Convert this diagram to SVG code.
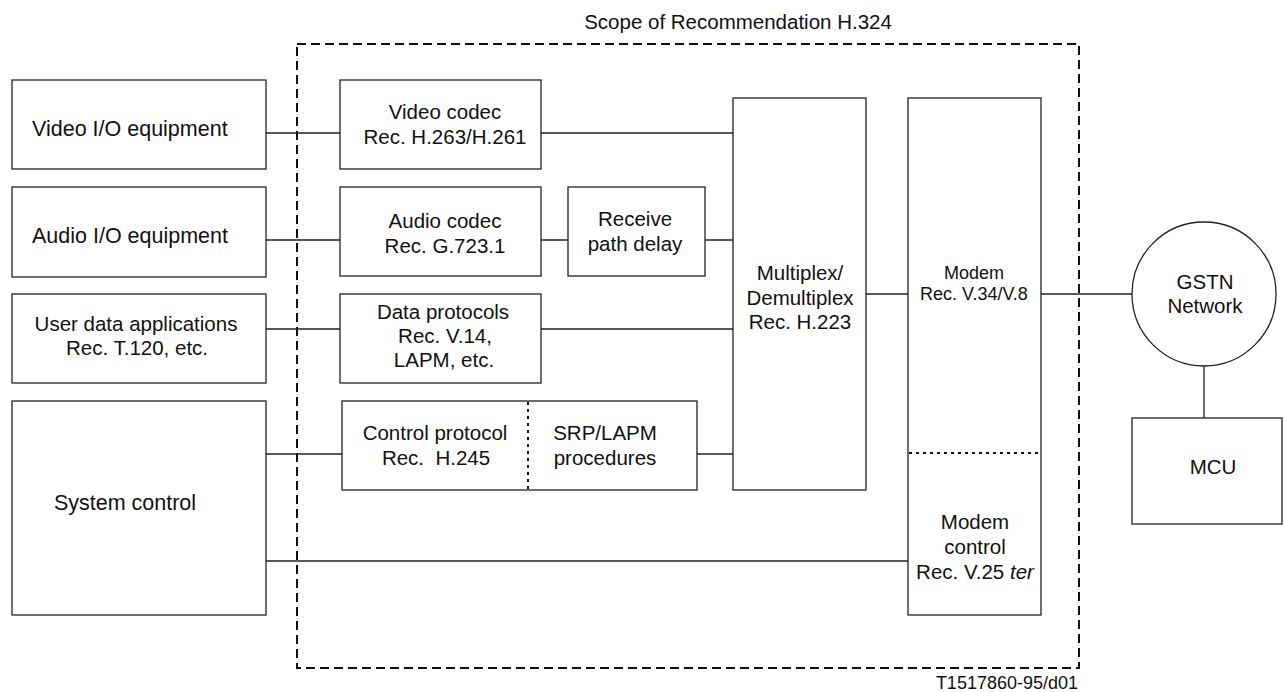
<svg xmlns="http://www.w3.org/2000/svg" width="1284" height="692" viewBox="0 0 1284 692">
<style>
.box{fill:#fff;stroke:#222;stroke-width:1.3}
.ln{fill:none;stroke:#222;stroke-width:1.3}
.scope{fill:none;stroke:#111;stroke-width:2;stroke-dasharray:9 5}
.dot{fill:none;stroke:#111;stroke-width:2;stroke-dasharray:3 4}
text{font-family:"Liberation Sans",Arial,sans-serif;font-size:20.5px;fill:#111;text-anchor:middle}
.big{font-size:21.5px}
.sm{font-size:18px}
</style>
<rect width="1284" height="692" fill="#fff"/>
<g id="scope">
<rect class="scope" x="297" y="44" width="782" height="624"/>
<text x="738" y="29">Scope of Recommendation H.324</text>
</g>
<g id="connectors">
<path class="ln" d="M266 133H340M541 133H733"/>
<path class="ln" d="M266 240H340M541 240H568M705 240H733"/>
<path class="ln" d="M266 329H340M541 329H733"/>
<path class="ln" d="M266 454H342M697 454H733"/>
<path class="ln" d="M266 561H908"/>
<path class="ln" d="M866 294H908M1041 294H1132"/>
<path class="ln" d="M1204 366V418"/>
</g>
<g id="video-io">
<rect class="box" x="12" y="80" width="254" height="89"/>
<text class="big" x="32" y="136" style="text-anchor:start">Video I/O equipment</text>
</g>
<g id="audio-io">
<rect class="box" x="12" y="187" width="254" height="90"/>
<text class="big" x="32" y="243" style="text-anchor:start">Audio I/O equipment</text>
</g>
<g id="user-data">
<rect class="box" x="12" y="294" width="254" height="89"/>
<text x="136" y="331">User data applications</text>
<text x="137" y="355">Rec. T.120, etc.</text>
</g>
<g id="system-control">
<rect class="box" x="12" y="401" width="254" height="214"/>
<text class="big" x="125" y="510">System control</text>
</g>
<g id="video-codec">
<rect class="box" x="340" y="80" width="201" height="89"/>
<text x="445" y="119">Video codec</text>
<text x="445" y="144">Rec. H.263/H.261</text>
</g>
<g id="audio-codec">
<rect class="box" x="340" y="187" width="201" height="89"/>
<text x="445" y="228">Audio codec</text>
<text x="445" y="253">Rec. G.723.1</text>
</g>
<g id="receive-delay">
<rect class="box" x="568" y="187" width="137" height="89"/>
<text x="635" y="226">Receive</text>
<text x="635" y="251">path delay</text>
</g>
<g id="data-protocols">
<rect class="box" x="340" y="294" width="201" height="89"/>
<text x="443" y="319">Data protocols</text>
<text x="445" y="343">Rec. V.14,</text>
<text x="444" y="367">LAPM, etc.</text>
</g>
<g id="control-protocol">
<rect class="box" x="342" y="401" width="355" height="89"/>
<path class="dot" d="M528 402V489"/>
<text x="435" y="440">Control protocol</text>
<text x="436" y="465" xml:space="preserve">Rec.  H.245</text>
<text x="605" y="440">SRP/LAPM</text>
<text x="605" y="465">procedures</text>
</g>
<g id="multiplex">
<rect class="box" x="733" y="98" width="133" height="392"/>
<text x="800" y="280">Multiplex/</text>
<text x="800" y="305">Demultiplex</text>
<text x="800" y="329">Rec. H.223</text>
</g>
<g id="modem">
<rect class="box" x="908" y="98" width="133" height="517"/>
<path class="dot" d="M909 453H1040"/>
<text class="sm" x="974" y="279">Modem</text>
<text class="sm" x="974" y="300">Rec. V.34/V.8</text>
<text x="975" y="529">Modem</text>
<text x="975" y="554">control</text>
<text x="975" y="579">Rec. V.25 <tspan font-style="italic">ter</tspan></text>
</g>
<g id="gstn">
<circle class="box" cx="1204" cy="294" r="72"/>
<text x="1205" y="289">GSTN</text>
<text x="1205" y="313">Network</text>
</g>
<g id="mcu">
<rect class="box" x="1132" y="418" width="150" height="106"/>
<text x="1213" y="474">MCU</text>
</g>
<text class="sm" x="1078" y="689" style="text-anchor:end">T1517860-95/d01</text>
</svg>
